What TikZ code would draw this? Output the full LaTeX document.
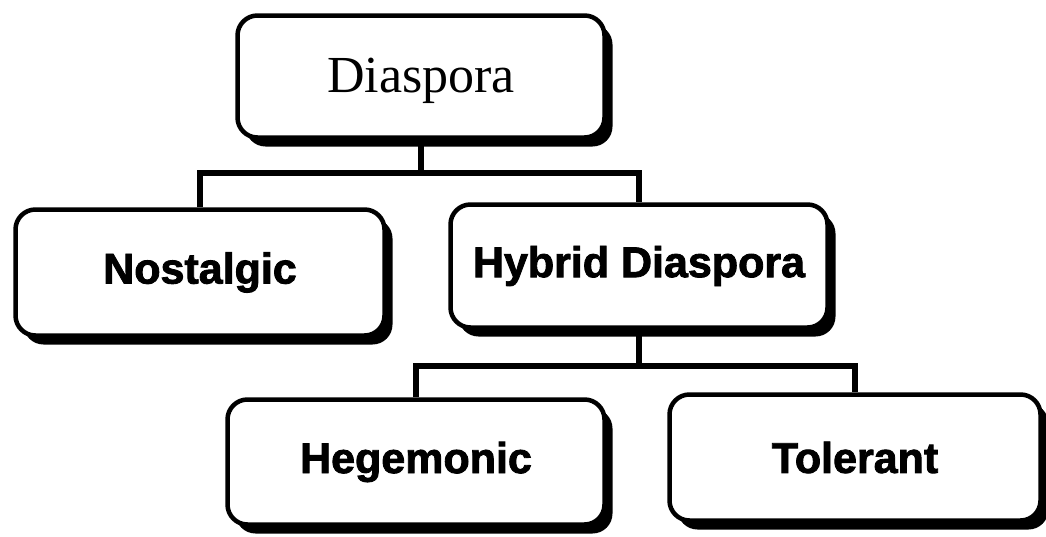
\documentclass[tikz,border=0pt]{standalone}
\usepackage{fontspec}
\setmainfont{Liberation Serif}
\newfontfamily\heavysans[FakeBold=2]{Liberation Sans Bold}
\usetikzlibrary{shadows}
\tikzset{
  box/.style={draw=black, line width=4.5pt, rounded corners=20pt, fill=white,
    drop shadow={shadow xshift=8pt, shadow yshift=-9pt, opacity=1, fill=black},
    inner sep=0pt, align=center},
  lbl/.style={font=\heavysans\fontsize{43}{50}\selectfont},
  link/.style={draw=black, line width=5.5pt}
}
\begin{document}
\begin{tikzpicture}[x=1pt,y=-1pt]
\useasboundingbox[fill=white] (0,0) rectangle (1046,536);
\node[box, minimum width=367pt, minimum height=122pt, font=\fontsize{52}{56}\selectfont] (dia) at (421,76.5) {\raisebox{-16pt}[0pt][0pt]{Diaspora}};
\node[box, lbl, minimum width=369pt, minimum height=126pt] (nos) at (200,272.5) {Nostalgic};
\node[box, lbl, minimum width=377pt, minimum height=123pt] (hyb) at (639,266) {Hybrid Diaspora};
\node[box, lbl, minimum width=377pt, minimum height=125pt] (heg) at (416,462) {Hegemonic};
\node[box, lbl, minimum width=371pt, minimum height=126pt] (tol) at (855,457.5) {Tolerant};
\coordinate (j1) at (421,173);
\coordinate (j2) at (639,366);
\draw[link] (dia.south) -- (j1);
\draw[link] (nos.north) |- (j1) -| (hyb.north);
\draw[link] (hyb.south) -- (j2);
\draw[link] (heg.north) |- (j2) -| (tol.north);
\end{tikzpicture}
\end{document}
